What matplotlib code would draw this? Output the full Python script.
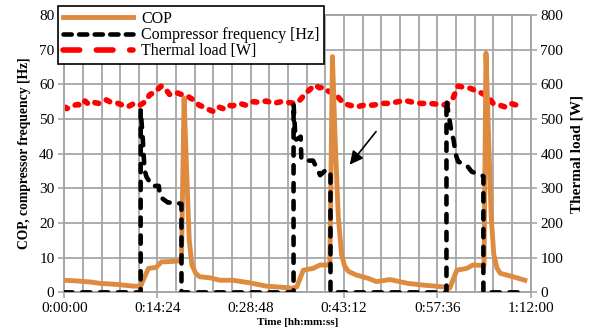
import matplotlib
matplotlib.use("Agg")
import matplotlib.pyplot as plt
from matplotlib.lines import Line2D
from matplotlib.ticker import MultipleLocator, FuncFormatter

plt.rcParams['font.family'] = ['Liberation Serif', 'DejaVu Serif']

# time in minutes
cop_t = [0, 2, 4, 5.5, 8, 10.7, 11.8, 12.3, 13, 14.2, 15.0, 16.5, 17.8, 18.1, 18.5, 18.9, 19.3, 19.7,
         20.3, 20.9, 22.5, 24, 26, 28.5, 31.2, 33.5, 35.3, 35.9, 36.9, 38.4, 39.5, 40.8, 41.0, 41.4,
         41.8, 42.3, 42.8, 43.3, 43.9, 45.1, 47, 48.2, 50.3, 53, 55.4, 58.5, 59.3, 59.5, 60.6, 62.1,
         63.1, 64.4, 64.8, 65.1, 65.5, 65.9, 66.3, 66.8, 67.3, 69.3, 71.1]
cop_v = [3.5, 3.3, 3.0, 2.6, 2.3, 1.8, 1.8, 4, 6.9, 7.2, 8.8, 8.9, 9.1, 9.5, 56, 35, 15, 8,
         5.5, 4.5, 4.2, 3.5, 3.5, 2.8, 1.8, 1.5, 1.2, 1.6, 6.4, 6.9, 7.9, 7.9, 8, 68,
         45, 22, 11, 7.5, 6, 5, 4, 3.1, 3.7, 2.6, 2.1, 1.6, 1.4, 1.2, 6.4, 6.9,
         7.9, 7.8, 8, 69, 45, 22, 11, 7, 5.5, 4.5, 3.5]

freq_t = [0, 11.8, 11.8, 12.1, 12.4, 12.7, 13.6, 14.6, 14.8, 15.2, 16.0, 17.2, 18.1, 18.1,
          35.4, 35.4, 35.7, 36.2, 36.5, 36.6, 36.9, 38.4, 38.9, 39.5, 40.2, 41.1, 41.1,
          59.0, 59.0, 59.4, 59.8, 60.1, 60.4, 60.8, 62.1, 62.9, 64.4, 64.7, 64.7, 71.3]
freq_v = [0, 0, 52.6, 45, 35.3, 33.3, 30.7, 30.7, 27.6, 27, 25.9, 25.9, 25.5, 0,
          0, 54.5, 44, 44.5, 44.9, 38.6, 38, 38, 36.2, 33.8, 35, 35, 0,
          0, 55.5, 50.6, 45.9, 44, 40, 37.7, 36.7, 34.8, 33.8, 33.5, 0, 0]

load_t = [0, 0.4, 1.2, 2.1, 2.7, 3.2, 3.8, 4.5, 5.3, 6.0, 6.5, 7.2, 8.3, 9.0, 9.8, 10.8, 11.7,
          12.5, 13.2, 13.7, 14.4, 15.0, 15.7, 16.3, 16.8, 17.5, 18.2, 18.9, 19.5, 20.2, 20.8,
          21.5, 22.2, 23.0, 23.8, 24.5, 25.1, 26.0, 27.1, 28.0, 29.0, 30.2, 31.2, 32.3, 33.5,
          34.5, 35.6, 36.4, 37.1, 37.9, 38.7, 39.4, 40.0, 40.8, 41.5, 42.2, 43.1, 44.0, 45.1,
          46.3, 47.7, 49.0, 50.3, 51.5, 52.7, 53.9, 55.0, 56.3, 57.5, 58.5, 59.3, 60.0, 60.8,
          61.5, 62.1, 62.8, 63.6, 64.4, 65.4, 66.2, 67.2, 68.0, 68.9, 69.8, 70.9]
load_v = [535, 530, 538, 542, 538, 552, 542, 548, 545, 552, 555, 548, 545, 540, 535, 545, 540,
          550, 570, 575, 585, 595, 585, 570, 570, 575, 570, 568, 560, 553, 540,
          535, 528, 522, 535, 530, 540, 538, 545, 540, 550, 548, 552, 545, 550,
          548, 545, 555, 570, 585, 598, 590, 592, 580, 575, 565, 545, 540, 535,
          540, 540, 545, 545, 550, 553, 548, 545, 545, 543, 540, 545, 560, 595,
          592, 590, 588, 580, 575, 565, 545, 540, 535, 545, 540, 535]

orange = '#DE8A3F'
gridc = '#A6A6A6'


def hms(x, pos):
    s = int(round(x * 60))
    return '%d:%02d:%02d' % (s // 3600, (s % 3600) // 60, s % 60)


fig = plt.figure(figsize=(5.89, 3.33), dpi=100)
ax2 = fig.add_axes([0.109, 0.122, 0.792, 0.833])
ax = ax2.twinx()
ax2.yaxis.tick_right()
ax2.yaxis.set_label_position('right')
ax.yaxis.tick_left()
ax.yaxis.set_label_position('left')
ax.set_zorder(3)
ax.patch.set_visible(False)

# thermal load (below)
ax2.plot(load_t, load_v, color='red', lw=4, dashes=(0.7, 1.5), dash_capstyle='round', zorder=2)
ax2.set_ylim(0, 800)
ax2.yaxis.set_major_locator(MultipleLocator(100))
ax2.set_ylabel('Thermal load [W]', fontsize=11, fontweight='bold', labelpad=5)
ax2.set_axisbelow(True)
ax2.grid(True, which='both', axis='x', color=gridc, lw=1.3)
ax2.grid(True, which='major', axis='y', color=gridc, lw=1.3)

ax.plot(cop_t, cop_v, color=orange, lw=3.5, solid_joinstyle='round', zorder=3)
ax.plot(freq_t, freq_v, color='black', lw=3.3, dashes=(1.8, 2.1), dash_capstyle='round', zorder=4)
ax.set_ylim(0, 80)
ax.yaxis.set_major_locator(MultipleLocator(10))
ax.set_ylabel('COP, compressor frequency [Hz]', fontsize=9.8, fontweight='bold', labelpad=6)

ax.set_xlim(0, 72)
ax.xaxis.set_major_locator(MultipleLocator(14.4))
ax.xaxis.set_minor_locator(MultipleLocator(2.88))
ax.xaxis.set_major_formatter(FuncFormatter(hms))
ax2.set_xlabel('Time [hh:mm:ss]', fontsize=8, fontweight='bold', labelpad=2)

for a in (ax, ax2):
    a.tick_params(labelsize=11, color=gridc, length=4, width=1.2, pad=3)
    a.tick_params(which='minor', length=0)
    for sp in a.spines.values():
        sp.set_color(gridc)
        sp.set_linewidth(1.3)

ax.annotate('', xy=(43.8, 36.2), xytext=(48.4, 47),
            arrowprops=dict(arrowstyle='-|>', color='black', lw=1.2, mutation_scale=20))

handles = [Line2D([], [], color=orange, lw=3.5),
           Line2D([], [], color='black', lw=3.3, dashes=(1.8, 1.6), dash_capstyle='round'),
           Line2D([], [], color='red', lw=4, dashes=(3.0, 3.0), dash_capstyle='round')]
labels = ['COP', 'Compressor frequency [Hz]', 'Thermal load [W]']
leg = ax.legend(handles, labels, loc='upper left', bbox_to_anchor=(58 / 589, 1 - 6 / 333),
                bbox_transform=fig.transFigure, fontsize=11.5, handlelength=4.4, frameon=True,
                fancybox=False, borderaxespad=0, borderpad=0.3, labelspacing=0.02,
                handletextpad=0.5)
leg.get_frame().set_edgecolor('black')
leg.get_frame().set_linewidth(1.2)
leg.get_frame().set_alpha(1)

fig.savefig('out.png', dpi=100)
